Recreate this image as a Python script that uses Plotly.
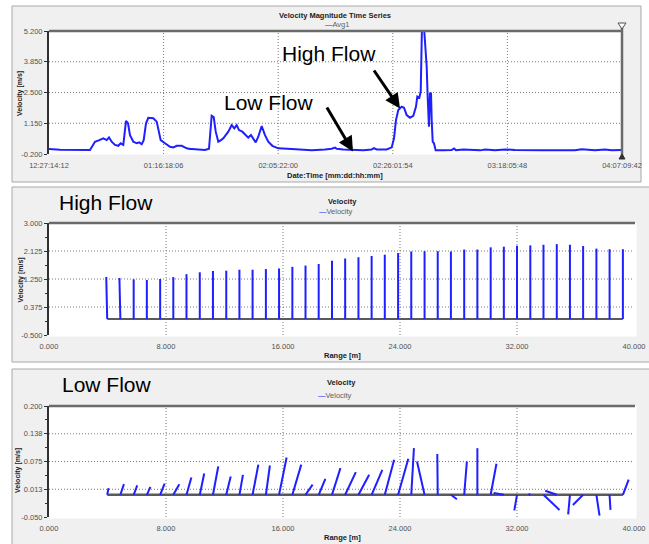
import plotly.graph_objects as go

W, H = 649, 544


def px(x):
    return x / W


def py(y):
    return 1 - y / H


# ---------------- data ----------------
# Panel 1: velocity magnitude time series (elapsed days from 12-27 14:12)
ts_days = [0.00, 1.94, 7.21, 8.09, 8.85, 9.55, 10.15, 10.56, 11.03, 11.61, 12.19, 12.61,
           13.07, 13.55, 13.90, 14.25, 14.83, 15.43, 15.89, 16.31, 16.66, 17.07, 17.47,
           18.35, 18.95, 19.23, 19.65, 20.41, 21.29, 21.87, 22.47, 23.35, 24.23, 24.81,
           25.11, 27.45, 28.15, 28.62, 28.98, 29.33, 29.79, 30.26, 30.67, 31.09, 31.55,
           32.14, 32.60, 33.02, 33.43, 34.01, 34.61, 35.06, 35.54, 35.94, 36.37, 36.82,
           37.42, 38.00, 38.58, 39.29, 40.34, 42.70, 44.46, 46.22, 48.56, 49.74, 50.32,
           50.61, 51.78, 53.54, 55.30, 56.77, 57.18, 57.65, 59.41, 60.29, 60.70, 61.05,
           61.45, 62.05, 62.46, 62.93, 63.51, 64.09, 64.57, 64.80, 65.15, 65.40, 65.62,
           65.97, 66.20, 66.45, 66.62, 66.73, 66.85, 67.03, 67.21, 67.33, 67.51, 67.73,
           68.03, 69.37, 70.85, 71.25, 71.60, 72.89, 74.07, 75.83, 76.71, 78.47, 80.23,
           81.98, 86.68, 92.54, 93.72, 96.06, 97.82, 99.00, 100.63]
ts_vel = [0.02, -0.01, -0.02, 0.34, 0.41, 0.49, 0.41, 0.53, 0.34, 0.20, 0.16, 0.27,
          0.20, 1.25, 1.15, 0.63, 0.34, 0.27, 0.31, 0.23, 0.41, 1.15, 1.39,
          1.37, 1.22, 0.85, 0.41, 0.27, 0.12, 0.09, 0.16, 0.16, 0.05, 0.02,
          0.02, -0.02, 0.03, 1.48, 1.42, 0.78, 0.34, 0.41, 0.49, 0.63, 0.78,
          1.07, 0.93, 1.07, 0.85, 0.78, 0.63, 0.52, 0.63, 0.49, 0.31, 0.56,
          1.03, 0.63, 0.34, 0.16, 0.05, 0.02, 0.01, -0.03, 0.00, 0.03, 0.08,
          0.03, 0.00, -0.02, -0.04, 0.00, 0.06, 0.00, 0.00, 0.09, 0.49, 1.29,
          1.73, 1.88, 1.83, 1.51, 1.39, 1.48, 1.88, 2.32, 2.27, 2.54, 5.40,
          5.40, 4.58, 3.63, 2.32, 1.22, 1.00, 2.46, 2.46, 1.29, 0.34, 0.27,
          -0.04, -0.04, -0.03, 0.04, -0.03, 0.00, -0.02, -0.04, 0.00, -0.03, 0.00,
          -0.02, -0.03, -0.03, 0.01, -0.03, 0.00, -0.04, -0.02]
ts_tickvals = [0, 20.1625, 40.325, 60.4875, 80.65, 100.8125]
ts_ticklabels = ["12:27:14:12", "01:16:18:06", "02:05:22:00",
                 "02:26:01:54", "03:18:05:48", "04:07:09:42"]
ts_ytickvals = [-0.2, 1.15, 2.5, 3.85, 5.2]
ts_yticklabels = ["-0.200", "1.150", "2.500", "3.850", "5.200"]

# Panels 2/3: velocity profiles along range (stick plots)
ranges = [3.98, 4.88, 5.79, 6.69, 7.60, 8.50, 9.40, 10.31, 11.21, 12.12,
          13.02, 13.92, 14.83, 15.73, 16.64, 17.54, 18.44, 19.35, 20.25, 21.16,
          22.06, 22.96, 23.87, 24.77, 25.68, 26.58, 27.48, 28.39, 29.29, 30.20,
          31.10, 32.00, 32.91, 33.81, 34.72, 35.62, 36.52, 37.43, 38.33, 39.24]
high_v = [1.31, 1.28, 1.24, 1.22, 1.25, 1.31, 1.40, 1.46, 1.50, 1.51,
          1.54, 1.54, 1.56, 1.58, 1.63, 1.67, 1.72, 1.82, 1.89, 1.93,
          1.97, 2.01, 2.06, 2.11, 2.12, 2.12, 2.11, 2.17, 2.17, 2.24,
          2.26, 2.29, 2.30, 2.32, 2.34, 2.32, 2.28, 2.20, 2.18, 2.18]
high_u = [-0.03, -0.03, 0, 0, 0, 0, 0, 0, 0, 0,
          0, 0, 0, 0, 0, 0, 0, 0, 0, 0,
          0, 0, 0, 0, 0, 0, 0, 0, 0, 0,
          0, 0, 0, 0, 0, 0, 0, 0, 0, 0]
low_v = [0.015, 0.024, 0.021, 0.018, 0.025, 0.024, 0.039, 0.048, 0.064, 0.041,
         0.045, 0.068, 0.066, 0.084, 0.068, 0.023, 0.036, 0.060, 0.051, 0.045,
         0.056, 0.079, 0.081, 0.105, 0.075, 0.092, -0.010, 0.075, 0.105, 0.070,
         0.004, -0.035, 0.002, -0.034, 0.009, -0.044, -0.023, -0.047, -0.034, 0.034]
low_u = [0.003, 0.008, 0.008, 0.008, 0.010, 0.0135, 0.011, 0.010, 0.012, 0.010,
         0.008, 0.013, 0.009, 0.017, 0.020, 0.016, 0.015, 0.019, 0.024, 0.024,
         0.024, 0.021, 0.023, 0.006, -0.017, -0.001, 0.0135, 0.006, 0.0, 0.013,
         -0.023, -0.006, -0.004, 0.036, -0.026, -0.004, -0.023, 0.007, 0.002, 0.013]
range_ticks = [0, 8, 16, 24, 32, 40]
range_ticklabels = ["0.000", "8.000", "16.000", "24.000", "32.000", "40.000"]
high_ytickvals = [-0.5, 0.375, 1.25, 2.125, 3.0]
high_yticklabels = ["-0.500", "0.375", "1.250", "2.125", "3.000"]
low_ytickvals = [-0.05, 0.0125, 0.075, 0.1375, 0.2]
low_yticklabels = ["-0.050", "0.013", "0.075", "0.138", "0.200"]

# ---------------- styling constants ----------------
BLUE = "#1f1fff"
TICKFONT = dict(family="Liberation Sans, Arial", size=7.5, color="#505050")
HIGH_STICK_SCALE = 2.18   # metres of range per m/s (equal pixel scale)
LOW_STICK_SCALE = 30.4


def sticks(r, u, v, scale):
    xs, ys = [], []
    for ri, ui, vi in zip(r, u, v):
        xs += [ri, ri + ui * scale, None]
        ys += [0, vi, None]
    return xs, ys


fig = go.Figure()

fig.add_trace(go.Scatter(x=ts_days, y=ts_vel, mode="lines",
                         line=dict(color=BLUE, width=2), xaxis="x", yaxis="y",
                         showlegend=False, hoverinfo="skip"))

# high-flow sticks
fig.add_trace(go.Scatter(x=[ranges[0], ranges[-1]], y=[0, 0], mode="lines",
                         line=dict(color="#5a5a5a", width=2), xaxis="x2", yaxis="y2",
                         showlegend=False, hoverinfo="skip"))
hx, hy = sticks(ranges, high_u, high_v, HIGH_STICK_SCALE)
fig.add_trace(go.Scatter(x=hx, y=hy, mode="lines", line=dict(color=BLUE, width=2),
                         xaxis="x2", yaxis="y2", showlegend=False, hoverinfo="skip"))

# low-flow sticks
fig.add_trace(go.Scatter(x=[ranges[0], ranges[-1]], y=[0, 0], mode="lines",
                         line=dict(color="#5a5a5a", width=2.5), xaxis="x3", yaxis="y3",
                         showlegend=False, hoverinfo="skip"))
lx, ly = sticks(ranges, low_u, low_v, LOW_STICK_SCALE)
fig.add_trace(go.Scatter(x=lx, y=ly, mode="lines", line=dict(color=BLUE, width=2),
                         xaxis="x3", yaxis="y3", showlegend=False, hoverinfo="skip"))


def xax(domain, rng, tv, tt, anchor):
    return dict(domain=domain, range=rng, tickmode="array", tickvals=tv, ticktext=tt,
                showgrid=False, zeroline=False, showline=False, ticks="outside",
                ticklen=4, tickcolor="rgba(0,0,0,0)", tickfont=TICKFONT, anchor=anchor,
                fixedrange=True, automargin=False)


def yax(domain, rng, tv, tt, anchor, minor_vals):
    d = dict(domain=domain, range=rng, tickmode="array", tickvals=tv, ticktext=tt,
             showgrid=False, zeroline=False, showline=True, linecolor="#303030",
             linewidth=2, ticks="outside", ticklen=3, tickcolor="#303030",
             tickfont=TICKFONT, anchor=anchor, fixedrange=True, automargin=False)
    if minor_vals:
        d["minor"] = dict(tickmode="array", tickvals=minor_vals, ticks="outside",
                          ticklen=2, tickcolor="#303030", showgrid=False)
    return d


fig.update_layout(
    template="none",
    width=W, height=H, margin=dict(l=0, r=0, t=0, b=0, pad=0, autoexpand=False),
    paper_bgcolor="white", plot_bgcolor="rgba(0,0,0,0)", showlegend=False,
    xaxis=xax([px(49), px(622)], [0, 100.8125], ts_tickvals, ts_ticklabels, "y"),
    yaxis=yax([py(154), py(31)], [-0.2, 5.2], ts_ytickvals, ts_yticklabels, "x", None),
    xaxis2=xax([px(49), px(634)], [0, 40], range_ticks, range_ticklabels, "y2"),
    yaxis2=yax([py(335), py(223)], [-0.5, 3.0], high_ytickvals, high_yticklabels, "x2",
               [-0.0625, 0.8125, 1.6875, 2.5625]),
    xaxis3=xax([px(49), px(634)], [0, 40], range_ticks, range_ticklabels, "y3"),
    yaxis3=yax([py(517), py(406)], [-0.05, 0.2], low_ytickvals, low_yticklabels, "x3",
               [-0.01875, 0.04375, 0.10625, 0.16875]),
)

shapes = []


def rect(x0, y0, x1, y1, fill, line=None):
    shapes.append(dict(type="rect", xref="paper", yref="paper", x0=px(x0), x1=px(x1),
                       y0=py(y1), y1=py(y0), fillcolor=fill, layer="below",
                       line=dict(color=line or fill, width=1)))


def seg(x0, y0, x1, y1, color, width, layer="above"):
    shapes.append(dict(type="line", xref="paper", yref="paper", x0=px(x0), x1=px(x1),
                       y0=py(y0), y1=py(y1), layer=layer,
                       line=dict(color=color, width=width)))


# panel backgrounds
rect(12, 6, 641, 182, "#f0f0f0", "#a8a8a8")
rect(49, 31, 622, 154, "white")
rect(12, 187, 655, 362, "#f0f0f0", "#a8a8a8")
rect(49, 223, 636, 336, "white")
rect(12, 369, 655, 560, "#f0f0f0", "#a8a8a8")
rect(49, 406, 636, 518, "white")

GRID = dict(color="#7a7a7a", width=1, dash="1px,2px")
for ax_id, xv, yv in [("", ts_tickvals[1:-1], ts_ytickvals[1:-1]),
                      ("2", range_ticks[1:-1], high_ytickvals[1:-1]),
                      ("3", range_ticks[1:-1], low_ytickvals[1:-1])]:
    for v in xv:
        shapes.append(dict(type="line", xref="x" + ax_id, yref="y" + ax_id + " domain",
                           x0=v, x1=v, y0=0, y1=1, layer="below", line=GRID))
    for v in yv:
        shapes.append(dict(type="line", xref="x" + ax_id + " domain", yref="y" + ax_id,
                           x0=0, x1=1, y0=v, y1=v, layer="below", line=GRID))

# frame lines
seg(49, 31, 622, 31, "#6a6a6a", 2.5)
seg(622, 26, 622, 157, "#6a6a6a", 2.5)
seg(49, 223, 635, 223, "#6a6a6a", 2.5)
seg(49, 406, 635, 406, "#6a6a6a", 2.5)

# cursor triangles (top panel)
shapes.append(dict(type="path", xref="paper", yref="paper",
                   path=f"M {px(618)},{py(23)} L {px(626)},{py(23)} L {px(622)},{py(29)} Z",
                   fillcolor="white", line=dict(color="#505050", width=1)))
shapes.append(dict(type="path", xref="paper", yref="paper",
                   path=f"M {px(619)},{py(159)} L {px(625)},{py(159)} L {px(622)},{py(154)} Z",
                   fillcolor="#303030", line=dict(color="#303030", width=1)))
fig.update_layout(shapes=shapes)

ann = []


def text(x, y, s, size, color="#202020", bold=False, angle=0, family="Liberation Sans, Arial",
         xanchor="center"):
    ann.append(dict(xref="paper", yref="paper", x=px(x), y=py(y), text=("<b>%s</b>" % s) if bold else s,
                    showarrow=False, textangle=angle, xanchor=xanchor, yanchor="middle",
                    font=dict(family=family, size=size, color=color)))


# titles & legends
text(335.5, 15, "Velocity Magnitude Time Series", 7.5, bold=True)
text(323, 24.5, '<span style="color:%s">—</span>Avg1' % BLUE, 7.5, color="#606060",
     xanchor="left")
text(342, 201, "Velocity", 7.5, bold=True)
text(317, 212, '<span style="color:%s">—</span>Velocity' % BLUE, 7.5, color="#606060",
     xanchor="left")
text(341, 382, "Velocity", 7.5, bold=True)
text(316, 395, '<span style="color:%s">—</span>Velocity' % BLUE, 7.5, color="#606060",
     xanchor="left")

# axis titles
text(335.5, 176, "Date:Time [mm:dd:hh:mm]", 7.5, bold=True)
text(342, 355, "Range [m]", 7.5, bold=True)
text(342, 537, "Range [m]", 7.5, bold=True)
text(20, 94, "Velocity [m/s]", 7, bold=True, angle=-90)
text(20.5, 280, "Velocity [m/s]", 7, bold=True, angle=-90)
text(18, 471, "Velocity [m/s]", 7, bold=True, angle=-90)

# big labels
text(328.5, 53.5, "High Flow", 21, color="black", family="Liberation Sans, Arial")
text(269, 102, "Low Flow", 21, color="black", family="Liberation Sans, Arial")
text(106, 202, "High Flow", 21, color="black", family="Liberation Sans, Arial")
text(106.5, 384.5, "Low Flow", 21, color="black", family="Liberation Sans, Arial")

# arrows
for (tx, ty, sx, sy) in [(400, 108.5, 373, 69), (353, 151.5, 326, 106)]:
    ann.append(dict(xref="paper", yref="paper", x=px(tx), y=py(ty), text="",
                    showarrow=True, ax=sx - tx, ay=sy - ty, arrowhead=2, arrowsize=1,
                    arrowwidth=3, arrowcolor="black", standoff=0))

fig.update_layout(annotations=ann)

fig.write_html("out.html", config={"displayModeBar": False, "staticPlot": True},
               post_script="document.body.style.margin='0';document.body.style.overflow='hidden';")
